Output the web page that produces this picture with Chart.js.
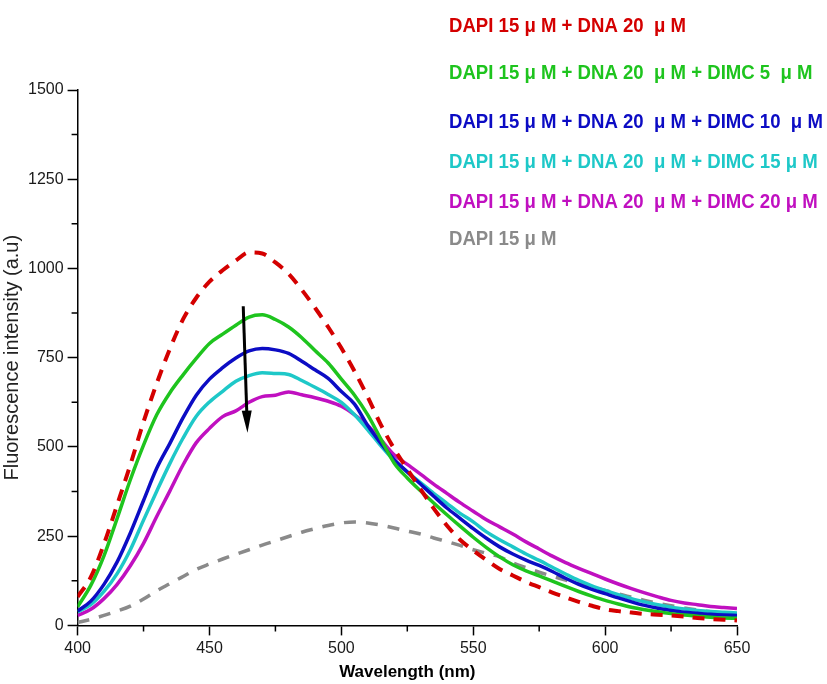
<!DOCTYPE html>
<html>
<head>
<meta charset="utf-8">
<script src="https://cdn.jsdelivr.net/npm/chart.js@4.4.1/dist/chart.umd.min.js"></script>
<style>
    html, body { margin: 0; padding: 0; background: #fff; }
    #wrap { width: 827px; height: 684px; position: relative; }
</style>
</head>
<body>
<div id="wrap"><canvas id="myChart"></canvas></div>
<script>
// wavelength (nm), 5 nm steps
const wavelengths = [400, 405, 410, 415, 420, 425, 430, 435, 440, 445, 450, 455, 460, 465, 470, 475, 480, 485, 490, 495,
    500, 505, 510, 515, 520, 525, 530, 535, 540, 545, 550, 555, 560, 565, 570, 575, 580, 585, 590, 595,
    600, 605, 610, 615, 620, 625, 630, 635, 640, 645, 650];

// fluorescence intensity (a.u)
const dapiDna = [80, 135, 228, 338, 450, 570, 678, 775, 858, 918, 963, 995, 1022, 1045, 1042, 1017, 985, 940, 890, 836,
    777, 712, 640, 562, 495, 438, 382, 328, 280, 240, 210, 183, 158, 140, 122, 107, 92, 79, 66, 55,
    45, 40, 36, 32, 30, 28, 25, 21, 18, 16, 14];
const dimc5 = [52, 112, 195, 300, 408, 505, 590, 652, 702, 748, 790, 816, 841, 864, 870, 857, 836, 806, 770, 735,
    690, 645, 590, 522, 455, 413, 377, 343, 310, 278, 247, 218, 192, 170, 153, 139, 124, 109, 95, 82,
    70, 60, 51, 44, 38, 33, 29, 26, 23, 21, 20];
const dimc10 = [40, 68, 115, 178, 259, 350, 440, 510, 582, 645, 690, 722, 749, 769, 776, 772, 762, 740, 716, 692,
    655, 620, 560, 510, 465, 430, 396, 362, 329, 300, 271, 244, 220, 200, 183, 168, 151, 132, 115, 101,
    89, 77, 66, 56, 48, 42, 37, 34, 31, 29, 28];
const dimc15 = [38, 58, 95, 145, 212, 295, 376, 454, 525, 586, 626, 656, 684, 700, 708, 706, 703, 686, 667, 647,
    625, 590, 548, 503, 462, 430, 400, 370, 342, 314, 290, 262, 240, 220, 200, 182, 163, 144, 126, 111,
    98, 86, 75, 66, 58, 51, 46, 42, 39, 37, 35];
const dimc20 = [28, 45, 75, 115, 167, 230, 305, 377, 450, 512, 552, 585, 601, 625, 641, 645, 654, 646, 638, 628,
    614, 590, 560, 520, 478, 451, 424, 396, 370, 344, 320, 296, 276, 256, 234, 214, 194, 176, 160, 145,
    130, 116, 103, 91, 80, 70, 63, 58, 53, 50, 47];
const dapiOnly = [8, 17, 28, 40, 54, 74, 97, 117, 137, 157, 172, 186, 199, 212, 225, 237, 249, 261, 271, 280,
    287, 290, 287, 281, 273, 264, 256, 245, 235, 224, 212, 202, 192, 175, 162, 149, 138, 127, 117, 107,
    98, 88, 79, 70, 62, 55, 49, 43, 38, 34, 30];

const seriesLabels = [
    "DAPI 15 \u03bc M + DNA 20  \u03bc M",
    "DAPI 15 \u03bc M + DNA 20  \u03bc M + DIMC 5  \u03bc M",
    "DAPI 15 \u03bc M + DNA 20  \u03bc M + DIMC 10  \u03bc M",
    "DAPI 15 \u03bc M + DNA 20  \u03bc M + DIMC 15 \u03bc M",
    "DAPI 15 \u03bc M + DNA 20  \u03bc M + DIMC 20 \u03bc M",
    "DAPI 15 \u03bc M",
];

const xTicks = [400, 450, 500, 550, 600, 650];
const yTicks = [0, 250, 500, 750, 1000, 1250, 1500];

// quenching arrow, in data units [nm, a.u]
const arrowFrom = [462.8, 894];
const arrowTo = [464.4, 540];

const colors = {
    red: "#d40000",
    green: "#1ec41e",
    blue: "#0c0cc4",
    cyan: "#1ec8c8",
    magenta: "#c010c0",
    gray: "#8a8a8a",
};

function pts(values) {
    return wavelengths.map((x, i) => ({ x, y: values[i] }));
}

const font = "Arial, 'Liberation Sans', sans-serif";

const legendText = {
    id: "legendText",
    afterDraw(chart, args, opts) {
        const ctx = chart.ctx;
        ctx.save();
        ctx.font = "bold 21px " + font;
        ctx.textBaseline = "alphabetic";
        chart.data.datasets.forEach((ds, i) => {
            ctx.save();
            ctx.translate(opts.x, opts.rows[i]);
            ctx.scale(opts.squeeze, 1);
            ctx.fillStyle = ds.borderColor;
            ctx.fillText(ds.label, 0, 0);
            ctx.restore();
        });
        ctx.restore();
    },
};

// short minor ticks between the labelled ones
const minorTicks = {
    id: "minorTicks",
    afterDraw(chart, args, opts) {
        const { ctx, chartArea, scales } = chart;
        ctx.save();
        ctx.strokeStyle = "#000";
        ctx.lineWidth = 1.5;
        ctx.beginPath();
        scales.x.ticks.forEach((t) => {
            if (xTicks.includes(t.value)) return;
            const px = scales.x.getPixelForValue(t.value);
            ctx.moveTo(px, chartArea.bottom);
            ctx.lineTo(px, chartArea.bottom + opts.len);
        });
        scales.y.ticks.forEach((t) => {
            if (yTicks.includes(t.value)) return;
            const py = scales.y.getPixelForValue(t.value);
            ctx.moveTo(chartArea.left, py);
            ctx.lineTo(chartArea.left - opts.len, py);
        });
        ctx.stroke();
        ctx.restore();
    },
};

const arrowPlugin = {
    id: "arrowPlugin",
    afterDatasetsDraw(chart) {
        const { ctx, scales } = chart;
        const x1 = scales.x.getPixelForValue(arrowFrom[0]);
        const y1 = scales.y.getPixelForValue(arrowFrom[1]);
        const x2 = scales.x.getPixelForValue(arrowTo[0]);
        const y2 = scales.y.getPixelForValue(arrowTo[1]);
        const ang = Math.atan2(y2 - y1, x2 - x1);
        const len = 22, half = 5;
        ctx.save();
        ctx.strokeStyle = "#000";
        ctx.fillStyle = "#000";
        ctx.lineWidth = 3;
        ctx.beginPath();
        ctx.moveTo(x1, y1);
        ctx.lineTo(x2 - Math.cos(ang) * (len - 4), y2 - Math.sin(ang) * (len - 4));
        ctx.stroke();
        ctx.beginPath();
        ctx.moveTo(x2, y2);
        ctx.lineTo(x2 - Math.cos(ang) * len - Math.sin(ang) * half, y2 - Math.sin(ang) * len + Math.cos(ang) * half);
        ctx.lineTo(x2 - Math.cos(ang) * len + Math.sin(ang) * half, y2 - Math.sin(ang) * len - Math.cos(ang) * half);
        ctx.closePath();
        ctx.fill();
        ctx.restore();
    },
};

const lineBase = {
    borderWidth: 3.5,
    pointRadius: 0,
    pointHoverRadius: 0,
    fill: false,
    cubicInterpolationMode: "monotone",
};

const majorColor = (list) => (c) => (c.tick && list.includes(c.tick.value) ? "#000" : "rgba(0,0,0,0)");

const ctx = document.getElementById("myChart");
const chart = new Chart(ctx, {
    type: "line",
    data: {
        datasets: [
            { ...lineBase, label: seriesLabels[0], data: pts(dapiDna), borderColor: colors.red, borderDash: [12, 9], borderWidth: 4, order: 1 },
            { ...lineBase, label: seriesLabels[1], data: pts(dimc5), borderColor: colors.green, order: 2 },
            { ...lineBase, label: seriesLabels[2], data: pts(dimc10), borderColor: colors.blue, order: 3 },
            { ...lineBase, label: seriesLabels[3], data: pts(dimc15), borderColor: colors.cyan, order: 4 },
            { ...lineBase, label: seriesLabels[4], data: pts(dimc20), borderColor: colors.magenta, order: 5 },
            { ...lineBase, label: seriesLabels[5], data: pts(dapiOnly), borderColor: colors.gray, borderDash: [12, 10], order: 6 },
        ],
    },
    options: {
        responsive: true,
        maintainAspectRatio: false,
        animation: false,
        layout: {
            padding: { top: 90, right: 90, bottom: 1, left: 0 },
        },
        plugins: {
            legend: { display: false },
            tooltip: { enabled: false },
            legendText: { x: 449, rows: [32, 79, 128, 168, 208, 245], squeeze: 0.885 },
            minorTicks: { len: 6 },
        },
        scales: {
            x: {
                type: "linear",
                min: xTicks[0],
                max: xTicks[xTicks.length - 1],
                ticks: {
                    stepSize: 25,
                    autoSkip: false,
                    maxRotation: 0,
                    padding: 4,
                    color: "#1a1a1a",
                    font: { family: font, size: 16 },
                    callback: (v) => (xTicks.includes(v) ? v : ""),
                },
                grid: {
                    drawOnChartArea: false,
                    drawTicks: true,
                    tickLength: 10,
                    tickColor: majorColor(xTicks),
                    tickWidth: 1.5,
                },
                border: { display: true, color: "#000", width: 1.5 },
                title: {
                    display: true,
                    text: "Wavelength (nm)",
                    color: "#000",
                    font: { family: font, size: 17, weight: "bold" },
                    padding: { top: 0, bottom: 0 },
                },
            },
            y: {
                type: "linear",
                min: yTicks[0],
                max: yTicks[yTicks.length - 1],
                ticks: {
                    stepSize: 125,
                    autoSkip: false,
                    padding: 4,
                    color: "#1a1a1a",
                    font: { family: font, size: 16 },
                    callback: (v) => (yTicks.includes(v) ? v : ""),
                },
                grid: {
                    drawOnChartArea: false,
                    drawTicks: true,
                    tickLength: 10,
                    tickColor: majorColor(yTicks),
                    tickWidth: 1.5,
                },
                border: { display: true, color: "#000", width: 1.5 },
                title: {
                    display: true,
                    text: "Fluorescence intensity (a.u)",
                    color: "#222",
                    font: { family: font, size: 20 },
                    padding: { top: 0, bottom: 0 },
                },
            },
        },
    },
    plugins: [legendText, minorTicks, arrowPlugin],
});
</script>
</body>
</html>
